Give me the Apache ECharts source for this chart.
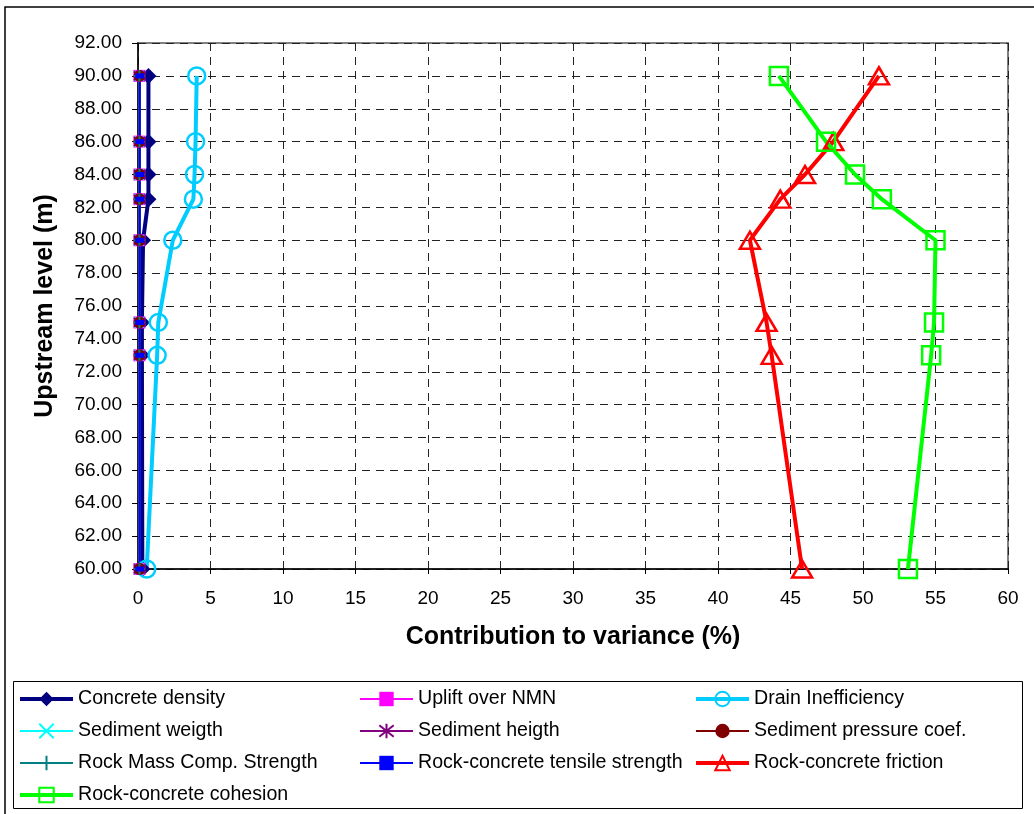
<!DOCTYPE html>
<html>
<head>
<meta charset="utf-8">
<script src="https://cdn.jsdelivr.net/npm/echarts@6/dist/echarts.min.js"></script>
<style>
html,body{margin:0;padding:0;background:#fff;}
#chart{width:1034px;height:814px;}
</style>
</head>
<body>
<div id="chart"></div>
<script>
// Upstream levels (m)
const levels = [90, 86, 84, 82.5, 80, 75, 73, 60];
// Contribution to variance (%) per variable at each level
const concreteDensity = [0.72, 0.72, 0.72, 0.72, 0.35, 0.27, 0.27, 0.3];
const upliftOverNMN = [0.1, 0.1, 0.1, 0.1, 0.1, 0.1, 0.1, 0.1];
const drainInefficiency = [4.05, 3.97, 3.9, 3.82, 2.4, 1.4, 1.32, 0.6];
const sedimentWeight = [0.1, 0.1, 0.1, 0.1, 0.1, 0.1, 0.1, 0.1];
const sedimentHeight = [0.1, 0.1, 0.1, 0.1, 0.1, 0.1, 0.1, 0.1];
const sedimentPressure = [0.1, 0.1, 0.1, 0.1, 0.1, 0.1, 0.1, 0.1];
const rockMassStrength = [0.1, 0.1, 0.1, 0.1, 0.1, 0.1, 0.1, 0.1];
const tensileStrength = [0.12, 0.12, 0.12, 0.12, 0.12, 0.12, 0.12, 0.12];
const rockFriction = [51.1, 47.95, 46.0, 44.3, 42.2, 43.35, 43.7, 45.8];
const rockCohesion = [44.2, 47.45, 49.45, 51.3, 55.0, 54.9, 54.7, 53.1];

const seriesNames = [
  'Concrete density', 'Uplift over NMN', 'Drain Inefficiency',
  'Sediment weigth', 'Sediment heigth', 'Sediment pressure coef.',
  'Rock Mass Comp. Strength', 'Rock-concrete tensile strength', 'Rock-concrete friction',
  'Rock-concrete cohesion'
];

const FONT = 'Liberation Sans, Arial, sans-serif';

function pts(vals) { return vals.map((v, i) => [v, levels[i]]); }

function mk(name, vals, color, lineWidth, symbol, size, filled, borderWidth) {
  return {
    name: name,
    type: 'line',
    data: pts(vals),
    clip: false,
    symbol: symbol,
    symbolSize: size,
    showAllSymbol: true,
    lineStyle: { color: color, width: lineWidth },
    itemStyle: {
      color: filled ? color : 'rgba(255,255,255,0)',
      borderColor: color,
      borderWidth: borderWidth
    },
    emphasis: { disabled: true },
    animation: false
  };
}

const X_PATH = 'path://M0,0L10,10M10,0L0,10';
const STAR_PATH = 'path://M5,0L5,10M1,1L9,9M9,1L1,9';
const PLUS_PATH = 'path://M5,0L5,10M0,5L10,5';

const series = [
  mk(seriesNames[0], concreteDensity, '#000080', 4, 'diamond', 16, true, 0),
  mk(seriesNames[1], upliftOverNMN, '#FF00FF', 2, 'rect', 12, true, 0),
  mk(seriesNames[2], drainInefficiency, '#00CCFF', 4, 'circle', 17, false, 2.5),
  mk(seriesNames[3], sedimentWeight, '#00FFFF', 2, X_PATH, 10, false, 2),
  mk(seriesNames[4], sedimentHeight, '#800080', 2, STAR_PATH, 11, false, 2),
  mk(seriesNames[5], sedimentPressure, '#800000', 2, 'circle', 12, true, 0),
  mk(seriesNames[6], rockMassStrength, '#008080', 2, PLUS_PATH, 11, false, 2),
  mk(seriesNames[7], tensileStrength, '#0000FF', 2, 'rect', [9, 5], true, 0),
  mk(seriesNames[8], rockFriction, '#FF0000', 4, 'triangle', [20, 17], false, 2.5),
  mk(seriesNames[9], rockCohesion, '#00FF00', 4, 'rect', 18, false, 2.5)
];

function legendCol(left, names) {
  return {
    orient: 'vertical',
    left: left,
    top: 689,
    padding: 0,
    itemWidth: 53,
    itemHeight: 18,
    itemGap: 12,
    selectedMode: false,
    data: names,
    lineStyle: { width: 'inherit' },
    textStyle: { fontFamily: FONT, fontSize: 19.6, color: '#000', lineHeight: 20, padding: [0, 0, 0, 0] }
  };
}

const chart = echarts.init(document.getElementById('chart'), null, { renderer: 'canvas' });
chart.setOption({
  backgroundColor: '#fff',
  animation: false,
  grid: {
    left: 138, right: 26, top: 43, bottom: 245,
    show: true, borderColor: '#808080', borderWidth: 2, backgroundColor: 'rgba(0,0,0,0)'
  },
  xAxis: {
    type: 'value', min: 0, max: 60, interval: 5,
    name: 'Contribution to variance (%)',
    nameLocation: 'middle', nameGap: 56,
    nameTextStyle: { fontFamily: FONT, fontSize: 25, fontWeight: 'bold', color: '#000' },
    axisLine: { show: true, onZero: false, lineStyle: { color: '#000', width: 1.5 } },
    axisTick: { show: true, inside: false, length: 5, lineStyle: { color: '#000' } },
    axisLabel: { fontFamily: FONT, fontSize: 19, color: '#000', margin: 20 },
    splitLine: { show: true, lineStyle: { color: '#222', type: [8, 6], width: 1 } }
  },
  yAxis: {
    type: 'value', min: 60, max: 92, interval: 2,
    name: 'Upstream level (m)',
    nameLocation: 'middle', nameGap: 80, nameRotate: 90,
    nameTextStyle: { fontFamily: FONT, fontSize: 25, fontWeight: 'bold', color: '#000' },
    axisLine: { show: true, onZero: false, lineStyle: { color: '#000', width: 1.5 } },
    axisTick: { show: true, inside: false, length: 6, lineStyle: { color: '#000' } },
    axisLabel: { fontFamily: FONT, fontSize: 19, color: '#000', margin: 16, formatter: v => v.toFixed(2) },
    splitLine: { show: true, lineStyle: { color: '#222', type: [8, 6], width: 1 } }
  },
  legend: [
    legendCol(18, [seriesNames[0], seriesNames[3], seriesNames[6], seriesNames[9]]),
    legendCol(359, [seriesNames[1], seriesNames[4], seriesNames[7]]),
    legendCol(694, [seriesNames[2], seriesNames[5], seriesNames[8]])
  ],
  graphic: [
    { type: 'rect', silent: true, z: -1, shape: { x: 5, y: 7, width: 1060, height: 840 },
      style: { fill: 'none', stroke: '#000', lineWidth: 1.5 } },
    { type: 'rect', silent: true, z: -1, shape: { x: 13.5, y: 681.5, width: 1009, height: 127 },
      style: { fill: 'none', stroke: '#000', lineWidth: 1 } }
  ],
  series: series
});
</script>
</body>
</html>
